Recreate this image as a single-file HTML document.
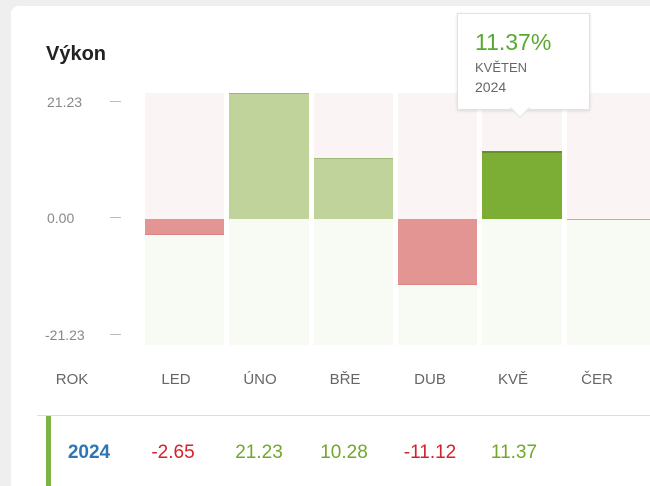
<!DOCTYPE html>
<html style="overflow:hidden;width:650px;height:486px"><head><meta charset="utf-8"><style>
body{margin:0;width:650px;height:486px;background:#efefef;font-family:"Liberation Sans",sans-serif;overflow:hidden;position:relative}
.card{position:absolute;left:11px;top:6px;width:639px;height:480px;background:#fff;border-radius:8px 0 0 0}
.a{position:absolute}
.t{position:absolute;font-size:14px;color:#888}
.h{position:absolute;font-size:15px;color:#666;width:80px;text-align:center;top:371px}
.v{position:absolute;font-size:19px;width:80px;text-align:center;top:442px}
.r{color:#d2232a}.g{color:#6fa82b}
</style></head><body>
<div class="card"></div>
<div class="a" style="left:46px;top:43px;font-size:20px;font-weight:bold;color:#222">Výkon</div>
<div class="t" style="left:47px;top:94px">21.23</div>
<div class="t" style="left:47px;top:210px">0.00</div>
<div class="t" style="left:45px;top:327px">-21.23</div>
<div class="a" style="left:110px;top:101px;width:11px;height:1px;background:#bbb"></div>
<div class="a" style="left:110px;top:217px;width:11px;height:1px;background:#bbb"></div>
<div class="a" style="left:110px;top:334px;width:11px;height:1px;background:#bbb"></div>
<div class="a" style="left:145px;top:93px;width:79px;height:126px;background:#faf4f4"></div>
<div class="a" style="left:145px;top:219px;width:79px;height:126px;background:#f8faf4"></div>
<div class="a" style="left:229px;top:93px;width:80px;height:126px;background:#faf4f4"></div>
<div class="a" style="left:229px;top:219px;width:80px;height:126px;background:#f8faf4"></div>
<div class="a" style="left:314px;top:93px;width:79px;height:126px;background:#faf4f4"></div>
<div class="a" style="left:314px;top:219px;width:79px;height:126px;background:#f8faf4"></div>
<div class="a" style="left:398px;top:93px;width:79px;height:126px;background:#faf4f4"></div>
<div class="a" style="left:398px;top:219px;width:79px;height:126px;background:#f8faf4"></div>
<div class="a" style="left:482px;top:93px;width:80px;height:126px;background:#faf4f4"></div>
<div class="a" style="left:482px;top:219px;width:80px;height:126px;background:#f8faf4"></div>
<div class="a" style="left:567px;top:93px;width:83px;height:126px;background:#faf4f4"></div>
<div class="a" style="left:567px;top:219px;width:83px;height:126px;background:#f8faf4"></div>
<div class="a" style="left:145px;top:219px;width:79px;height:16px;background:#e39594;box-sizing:border-box;border-bottom:1px solid #d88584"></div>
<div class="a" style="left:229px;top:93px;width:80px;height:126px;background:#bfd39a;border-top:1px solid #9fb87a;box-sizing:border-box"></div>
<div class="a" style="left:314px;top:158px;width:79px;height:61px;background:#bfd39a;border-top:1px solid #9fb87a;box-sizing:border-box"></div>
<div class="a" style="left:398px;top:219px;width:79px;height:66px;background:#e39594;border-bottom:1px solid #d88584;box-sizing:border-box"></div>
<div class="a" style="left:482px;top:151px;width:80px;height:68px;background:#7cad35;border-top:2px solid #62922a;box-sizing:border-box"></div>
<div class="a" style="left:567px;top:219px;width:83px;height:1px;background:#a9bf86"></div>
<div class="a" style="left:457px;top:13px;width:131px;height:95px;background:#fff;border:1px solid #e2e2e2;box-shadow:0 1px 3px rgba(0,0,0,.12)"></div>
<div class="a" style="left:513px;top:101px;width:13px;height:13px;background:#fff;border-right:1px solid #e2e2e2;border-bottom:1px solid #e2e2e2;transform:rotate(45deg)"></div>
<div class="a" style="left:475px;top:29px;font-size:23px;color:#5aaa32">11.37%</div>
<div class="a" style="left:475px;top:60px;font-size:13px;color:#666">KVĚTEN</div>
<div class="a" style="left:475px;top:79px;font-size:14px;color:#666">2024</div>
<div class="h" style="left:32px">ROK</div>
<div class="h" style="left:136px">LED</div>
<div class="h" style="left:220px">ÚNO</div>
<div class="h" style="left:305px">BŘE</div>
<div class="h" style="left:390px">DUB</div>
<div class="h" style="left:473px">KVĚ</div>
<div class="h" style="left:557px">ČER</div>
<div class="a" style="left:37px;top:415px;width:613px;height:1px;background:#ddd"></div>
<div class="a" style="left:46px;top:416px;width:5px;height:70px;background:#7cb342"></div>
<div class="v" style="left:49px;color:#2e75b6;font-weight:bold">2024</div>
<div class="v r" style="left:133px">-2.65</div>
<div class="v g" style="left:219px">21.23</div>
<div class="v g" style="left:304px">10.28</div>
<div class="v r" style="left:390px">-11.12</div>
<div class="v g" style="left:474px">11.37</div>
</body></html>
